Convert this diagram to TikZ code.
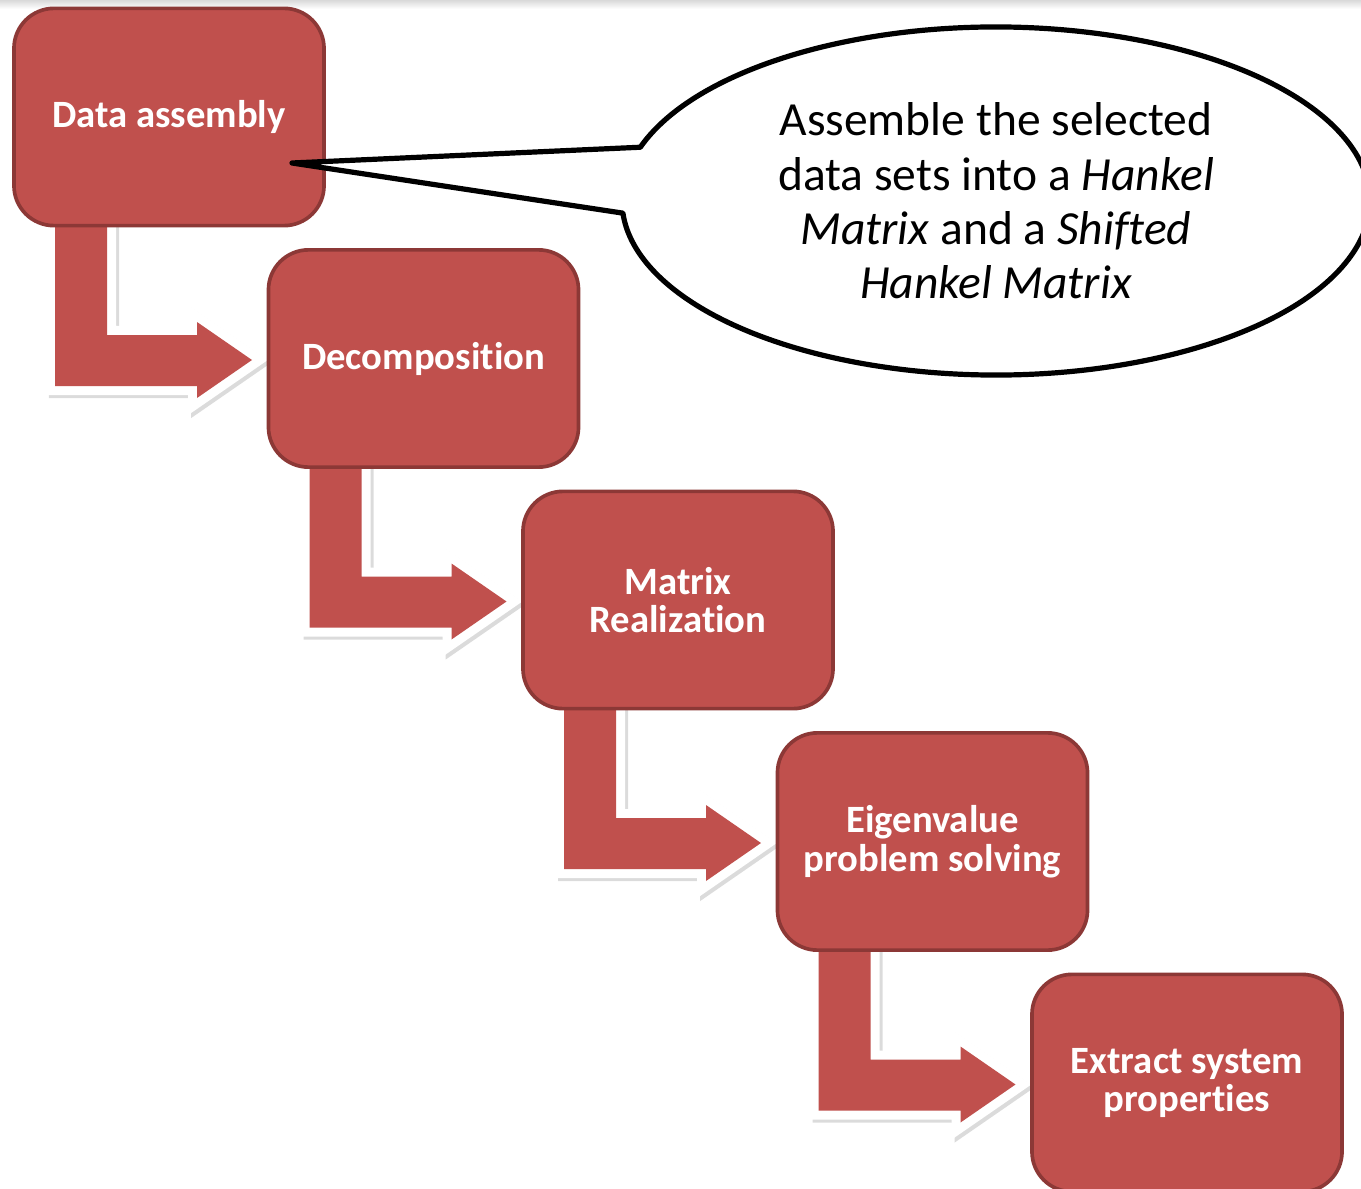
\documentclass[tikz,border=0pt]{standalone}
\usepackage{fontspec}
\setmainfont[Ligatures=NoCommon]{Carlito}
\usetikzlibrary{positioning}

\definecolor{stepred}{HTML}{C0504D}
\definecolor{stepedge}{HTML}{8C3836}

\tikzset{
    x=0.025cm, y=0.025cm,
    stepbox/.style={draw=stepedge, fill=stepred, line width=2.6pt,
        rounded corners=1cm, minimum width=7.75cm, minimum height=5.43cm,
        text=white, align=center,
        font=\bfseries\fontsize{27.5}{27.6}\selectfont},
    bentshadow/.style={draw=black!20, fill=black!20, line width=0.45cm,
        line join=miter, opacity=0.7},
    bentedge/.style={draw=white, line width=0.45cm, line join=miter},
    bentfill/.style={fill=stepred},
    callout/.style={draw=black, fill=white, line width=3.7pt, line join=round},
    callouttext/.style={align=center, font=\fontsize{33.8}{38.6}\selectfont}
}

% bent arrow, relative to the centre of the box it leaves
\newcommand\bentpath{(-114,-98) -- (-114,-269) -- (28,-269) -- (28,-281)
    -- (83,-243) -- (28,-205) -- (28,-218) -- (-62,-218) -- (-62,-98) -- cycle}

\begin{document}
\begin{tikzpicture}
    \useasboundingbox (0,0) rectangle (1361,-1189);
    \shade[top color=black!15, bottom color=white] (0,0) rectangle (1361,-9);

    % box centres
    \foreach \i in {1,...,5}
        \coordinate (c\i) at ({169+254.5*(\i-1)}, {-117-241.5*(\i-1)});

    % bent arrows between the steps
    \foreach \i in {1,...,4} {
        \draw[bentshadow, shift={(c\i)}, shift={(3,-3)}] \bentpath;
        \draw[bentedge, shift={(c\i)}] \bentpath;
        \fill[bentfill, shift={(c\i)}] \bentpath;
    }

    % steps
    \node[stepbox] (assembly) at (c1) {Data assembly};
    \node[stepbox] (decomp) at (c2) {Decomposition};
    \node[stepbox] (realize) at (c3) {Matrix\\Realization};
    \node[stepbox] (eigen) at (c4) {Eigenvalue\\problem solving};
    \node[stepbox] (extract) at (c5) {Extract system\\properties};

    % speech bubble
    \coordinate (tip) at (292,-163);
    \coordinate (bubble) at (996,-201);
    \draw[callout] (tip) -- ([shift={(162:374 and 174)}]bubble)
        arc[start angle=162, end angle=-176, x radius=374, y radius=174]
        -- cycle;
    \node[callouttext] (note) at (bubble) {Assemble the selected\\
        data sets into a \textit{Hankel}\\
        \textit{Matrix} and a \textit{Shifted}\\
        \textit{Hankel Matrix}};
\end{tikzpicture}
\end{document}
